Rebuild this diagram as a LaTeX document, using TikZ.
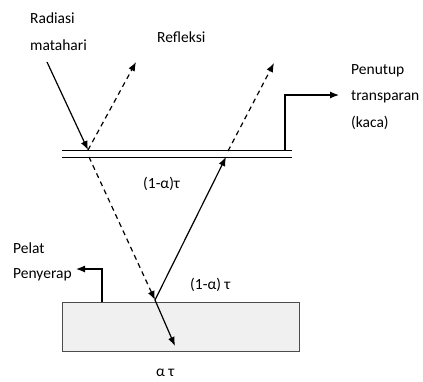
\documentclass[tikz,border=0pt]{standalone}
\usepackage{fontspec}
\setmainfont{Carlito}
\usetikzlibrary{arrows.meta}
\begin{document}
\begin{tikzpicture}[x=1pt,y=-1pt,
  ray/.style={line width=1.2pt,-{Latex[length=9pt,width=7pt]}},
  dray/.style={ray,dash pattern=on 5pt off 4pt},
  lbl/.style={font=\fontsize{15.5}{17}\selectfont,inner sep=0pt,anchor=west},
  glassline/.style={line width=1pt}]
\useasboundingbox (0,0) rectangle (423,381);
% plate
\node[draw=black!70,fill=black!6,line width=1.2pt,minimum width=237pt,minimum height=49pt,inner sep=0pt,anchor=north west] (plate) at (62,302) {};
% glass
\draw[glassline] (62,150) -- (292,150);
\draw[glassline] (62,157) -- (292,157);
\coordinate (sunstart) at (47,62);
\coordinate (g1top) at (88,150);
\coordinate (g1bot) at (89,157);
\coordinate (refl1) at (136,62);
\coordinate (p) at (155,300);
\coordinate (pin) at (175,346);
\coordinate (g2bot) at (226,157);
\coordinate (g2top) at (228,151);
\coordinate (refl2) at (274,63);
\draw[ray] (sunstart) -- (g1top);
\draw[dray] (g1top) -- (refl1);
\draw[dray] (g1bot) -- (p);
\draw[ray] (p) -- (g2bot);
\draw[dray] (g2top) -- (refl2);
\draw[ray] (p) -- (pin);
% leaders
\coordinate (gl0) at (285,150);
\coordinate (gl1) at (285,95);
\coordinate (gl2) at (339,95);
\draw[ray] (gl0) -- (gl1) -- (gl2);
\coordinate (pl0) at (102,302);
\coordinate (pl1) at (102,269);
\coordinate (pl2) at (76,269);
\draw[ray] (pl0) -- (pl1) -- (pl2);
% labels
\node[lbl] (rad) at (30,18) {Radiasi};
\node[lbl] (mat) at (30,45) {matahari};
\node[lbl] (ref) at (157,37) {Refleksi};
\node[lbl] (pen) at (351,71) {Penutup};
\node[lbl] (tra) at (351,97) {transparan};
\node[lbl] (kac) at (351,123) {(kaca)};
\node[lbl] (t1) at (143,184) {(1-α)τ};
\node[lbl] (t2) at (190,285) {(1-α) τ};
\node[lbl] (pel) at (13,248) {Pelat};
\node[lbl] (pny) at (13,275) {Penyerap};
\node[lbl,anchor=base west] (at) at (156,376) {α τ};
\end{tikzpicture}
\end{document}
